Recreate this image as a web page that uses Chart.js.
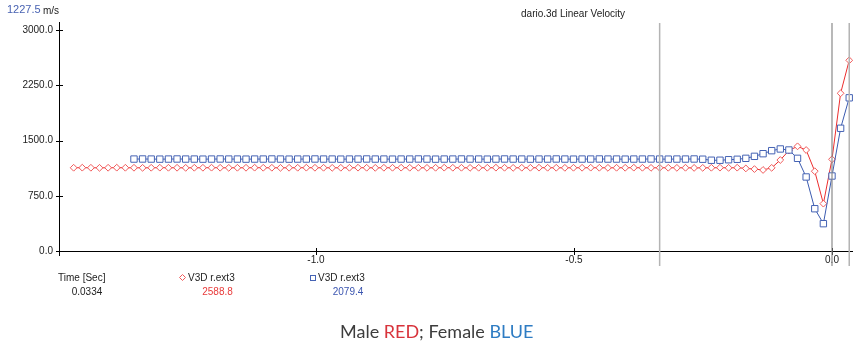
<!DOCTYPE html>
<html>
<head>
<meta charset="utf-8">
<script src="https://cdn.jsdelivr.net/npm/chart.js@4.4.1/dist/chart.umd.min.js"></script>
<style>
  html, body { margin: 0; padding: 0; background: #fff; }
  #wrap { position: relative; width: 853px; height: 343px; }
</style>
</head>
<body>
<div id="wrap"><canvas id="c" width="853" height="343"></canvas></div>
<script>
// Sampling: one frame every 0.0167 s, frame 0 = t 0.0
const frameDt = 0.0167;
const redFirstFrame = -88;   // male trace starts at frame -88
const blueFirstFrame = -81;  // female trace starts at frame -81

// Male (red) linear velocity, mm/s, frames -88 .. 2
const redValues = [
  1130, 1131, 1130, 1129, 1130, 1131, 1130, 1130, 1129, 1130,
  1131, 1130, 1130, 1129, 1130, 1130, 1131, 1130, 1129, 1130,
  1130, 1131, 1130, 1130, 1129, 1130, 1130, 1131, 1130, 1130,
  1129, 1130, 1130, 1131, 1130, 1129, 1130, 1130, 1131, 1130,
  1130, 1129, 1130, 1131, 1130, 1130, 1129, 1130, 1130, 1131,
  1130, 1129, 1130, 1130, 1131, 1130, 1130, 1129, 1130, 1130,
  1131, 1130, 1129, 1130, 1130, 1131, 1130, 1129, 1130, 1130,
  1129, 1130, 1128, 1129, 1130, 1131, 1129,
  1131, 1121, 1112, 1100, 1129, 1235, 1364, 1421, 1371, 1083, 643, 1245, 2141, 2588.8
];

// Female (blue) linear velocity, mm/s, frames -81 .. 2
const blueValues = [
  1248, 1249, 1248, 1247, 1248, 1249, 1248, 1248, 1247, 1248,
  1249, 1248, 1248, 1247, 1248, 1248, 1249, 1248, 1247, 1248,
  1248, 1249, 1248, 1248, 1247, 1248, 1248, 1249, 1248, 1248,
  1247, 1248, 1248, 1249, 1248, 1247, 1248, 1248, 1249, 1248,
  1248, 1247, 1248, 1249, 1248, 1248, 1247, 1248, 1248, 1249,
  1248, 1247, 1248, 1248, 1249, 1248, 1248, 1247, 1248, 1248,
  1249, 1248, 1247, 1248, 1248, 1249, 1246,
  1232, 1232, 1239, 1245, 1258, 1285, 1321, 1362, 1385, 1371, 1258, 1005, 574, 371, 1018, 1666, 2079.4
];

const xTickValues = [-1.0, -0.5, 0.0];
const yTickValues = [0, 750, 1500, 2250, 3000];

const eventTime = -0.334;   // event marker line
const zeroTime = 0.0;       // zero line
const cursorTime = 0.0334;  // cursor line

const chartTitle = 'dario.3d Linear Velocity';
const seriesName = 'V3D r.ext3';
const readoutText = '1227.5';
const unitText = 'm/s';
const timeHeader = 'Time [Sec]';
const captionParts = [
  { text: 'Male ', color: '#3d3d3d' },
  { text: 'RED', color: '#d8343c' },
  { text: '; Female ', color: '#3d3d3d' },
  { text: 'BLUE', color: '#2e7cc3' }
];

const RED_LINE = '#ec2e2e';
const RED_MARK = '#f05a5a';
const BLUE_LINE = '#3b5bb0';
const BLUE_MARK = '#4563b4';

function toPoints(firstFrame, values) {
  return values.map((v, i) => ({ x: +((firstFrame + i) * frameDt).toFixed(4), y: v }));
}

const FONT = "'Liberation Sans', Arial, sans-serif";

const overlay = {
  id: 'overlay',
  afterDraw(chart) {
    const ctx = chart.ctx;
    const a = chart.chartArea;
    const xs = chart.scales.x;
    const ys = chart.scales.y;
    ctx.save();

    // axes (filled 1px rectangles)
    ctx.fillStyle = '#000';
    const ax = Math.round(a.left);
    const ay = Math.round(a.bottom);
    ctx.fillRect(ax, Math.round(a.top) - 8, 1, (ay + 5) - (Math.round(a.top) - 8));
    ctx.fillRect(ax, ay, chart.width - ax, 1);
    // crossing tick marks
    yTickValues.forEach(v => {
      const py = Math.round(ys.getPixelForValue(v));
      ctx.fillRect(ax - 3, py, 7, 1);
    });
    xTickValues.forEach(v => {
      const px = Math.round(xs.getPixelForValue(v));
      ctx.fillRect(px, ay - 3, 1, 7);
    });

    // vertical marker lines
    const vline = (t, color, w) => {
      const px = xs.getPixelForValue(t);
      ctx.fillStyle = color;
      ctx.fillRect(px - w / 2, 23, w, 243);
    };
    vline(eventTime, '#b4b4b4', 1.5);
    vline(zeroTime, '#8a8a8a', 1.2);
    vline(cursorTime, '#b4b4b4', 1.5);

    // title and readout
    ctx.textBaseline = 'middle';
    ctx.font = '10px ' + FONT;
    ctx.fillStyle = '#222';
    ctx.textAlign = 'center';
    ctx.fillText(chartTitle, 573, 14);

    ctx.textAlign = 'left';
    ctx.fillText(unitText, 43, 11);
    ctx.font = '11px ' + FONT;
    ctx.fillStyle = '#4862b2';
    ctx.fillText(readoutText, 7, 10);

    // legend / cursor readout row
    const redLast = redValues[redValues.length - 1];
    const blueLast = blueValues[blueValues.length - 1];
    ctx.font = '10px ' + FONT;
    ctx.fillStyle = '#222';
    ctx.textAlign = 'left';
    ctx.fillText(timeHeader, 58, 278);
    ctx.textAlign = 'center';
    ctx.fillText(cursorTime.toFixed(4), 87, 292);

    // red diamond + name + value
    ctx.strokeStyle = RED_MARK;
    ctx.lineWidth = 1;
    ctx.beginPath();
    ctx.moveTo(182.5, 274.5);
    ctx.lineTo(185.5, 277.5);
    ctx.lineTo(182.5, 280.5);
    ctx.lineTo(179.5, 277.5);
    ctx.closePath();
    ctx.stroke();
    ctx.fillStyle = '#222';
    ctx.textAlign = 'left';
    ctx.fillText(seriesName, 188, 278);
    ctx.fillStyle = '#e83a3a';
    ctx.textAlign = 'center';
    ctx.fillText(redLast.toFixed(1), 217.5, 292);

    // blue square + name + value
    ctx.strokeStyle = BLUE_MARK;
    ctx.strokeRect(310.5, 275.5, 5, 5);
    ctx.fillStyle = '#222';
    ctx.textAlign = 'left';
    ctx.fillText(seriesName, 318, 278);
    ctx.fillStyle = '#3b55b0';
    ctx.textAlign = 'center';
    ctx.fillText(blueLast.toFixed(1), 348, 292);

    // caption
    ctx.font = "18px Lato, 'Open Sans', sans-serif";
    ctx.textBaseline = 'alphabetic';
    ctx.textAlign = 'left';
    let cx = 340;
    captionParts.forEach(p => {
      ctx.fillStyle = p.color;
      ctx.fillText(p.text, cx, 338);
      cx += ctx.measureText(p.text).width;
    });

    ctx.restore();
  }
};

new Chart(document.getElementById('c').getContext('2d'), {
  type: 'line',
  data: {
    datasets: [
      {
        label: 'Female',
        data: toPoints(blueFirstFrame, blueValues),
        borderColor: BLUE_LINE,
        borderWidth: 1,
        pointStyle: 'rect',
        pointRadius: 4.5,
        pointBorderWidth: 1,
        pointBorderColor: BLUE_MARK,
        pointBackgroundColor: '#fff',
        tension: 0,
        fill: false
      },
      {
        label: 'Male',
        data: toPoints(redFirstFrame, redValues),
        borderColor: RED_LINE,
        borderWidth: 1,
        pointStyle: 'rectRot',
        pointRadius: 3.4,
        pointBorderWidth: 1,
        pointBorderColor: RED_MARK,
        pointBackgroundColor: '#fff',
        tension: 0,
        fill: false
      }
    ]
  },
  options: {
    responsive: false,
    animation: false,
    devicePixelRatio: 1,
    layout: { autoPadding: false, padding: { top: 30, right: 0, bottom: 72, left: 0 } },
    plugins: { legend: { display: false }, tooltip: { enabled: false }, title: { display: false } },
    scales: {
      x: {
        type: 'linear',
        min: -1.498,
        max: 0.0407,
        afterBuildTicks: s => { s.ticks = xTickValues.map(v => ({ value: v })); },
        afterFit: s => { s.height = 20; s.paddingLeft = 0; s.paddingRight = 0; },
        grid: { display: false, drawTicks: false },
        border: { display: false },
        ticks: {
          font: { family: FONT, size: 10 },
          color: '#222',
          padding: 3,
          maxRotation: 0,
          autoSkip: false,
          callback: v => Number(v).toFixed(1)
        }
      },
      y: {
        min: 0,
        max: 3000,
        afterBuildTicks: s => { s.ticks = yTickValues.map(v => ({ value: v })); },
        afterFit: s => { s.width = 59; s.paddingTop = 0; s.paddingBottom = 0; },
        grid: { display: false, drawTicks: false },
        border: { display: false },
        ticks: {
          font: { family: FONT, size: 10 },
          color: '#222',
          padding: 6,
          callback: v => Number(v).toFixed(1)
        }
      }
    }
  },
  plugins: [overlay]
});
</script>
</body>
</html>
